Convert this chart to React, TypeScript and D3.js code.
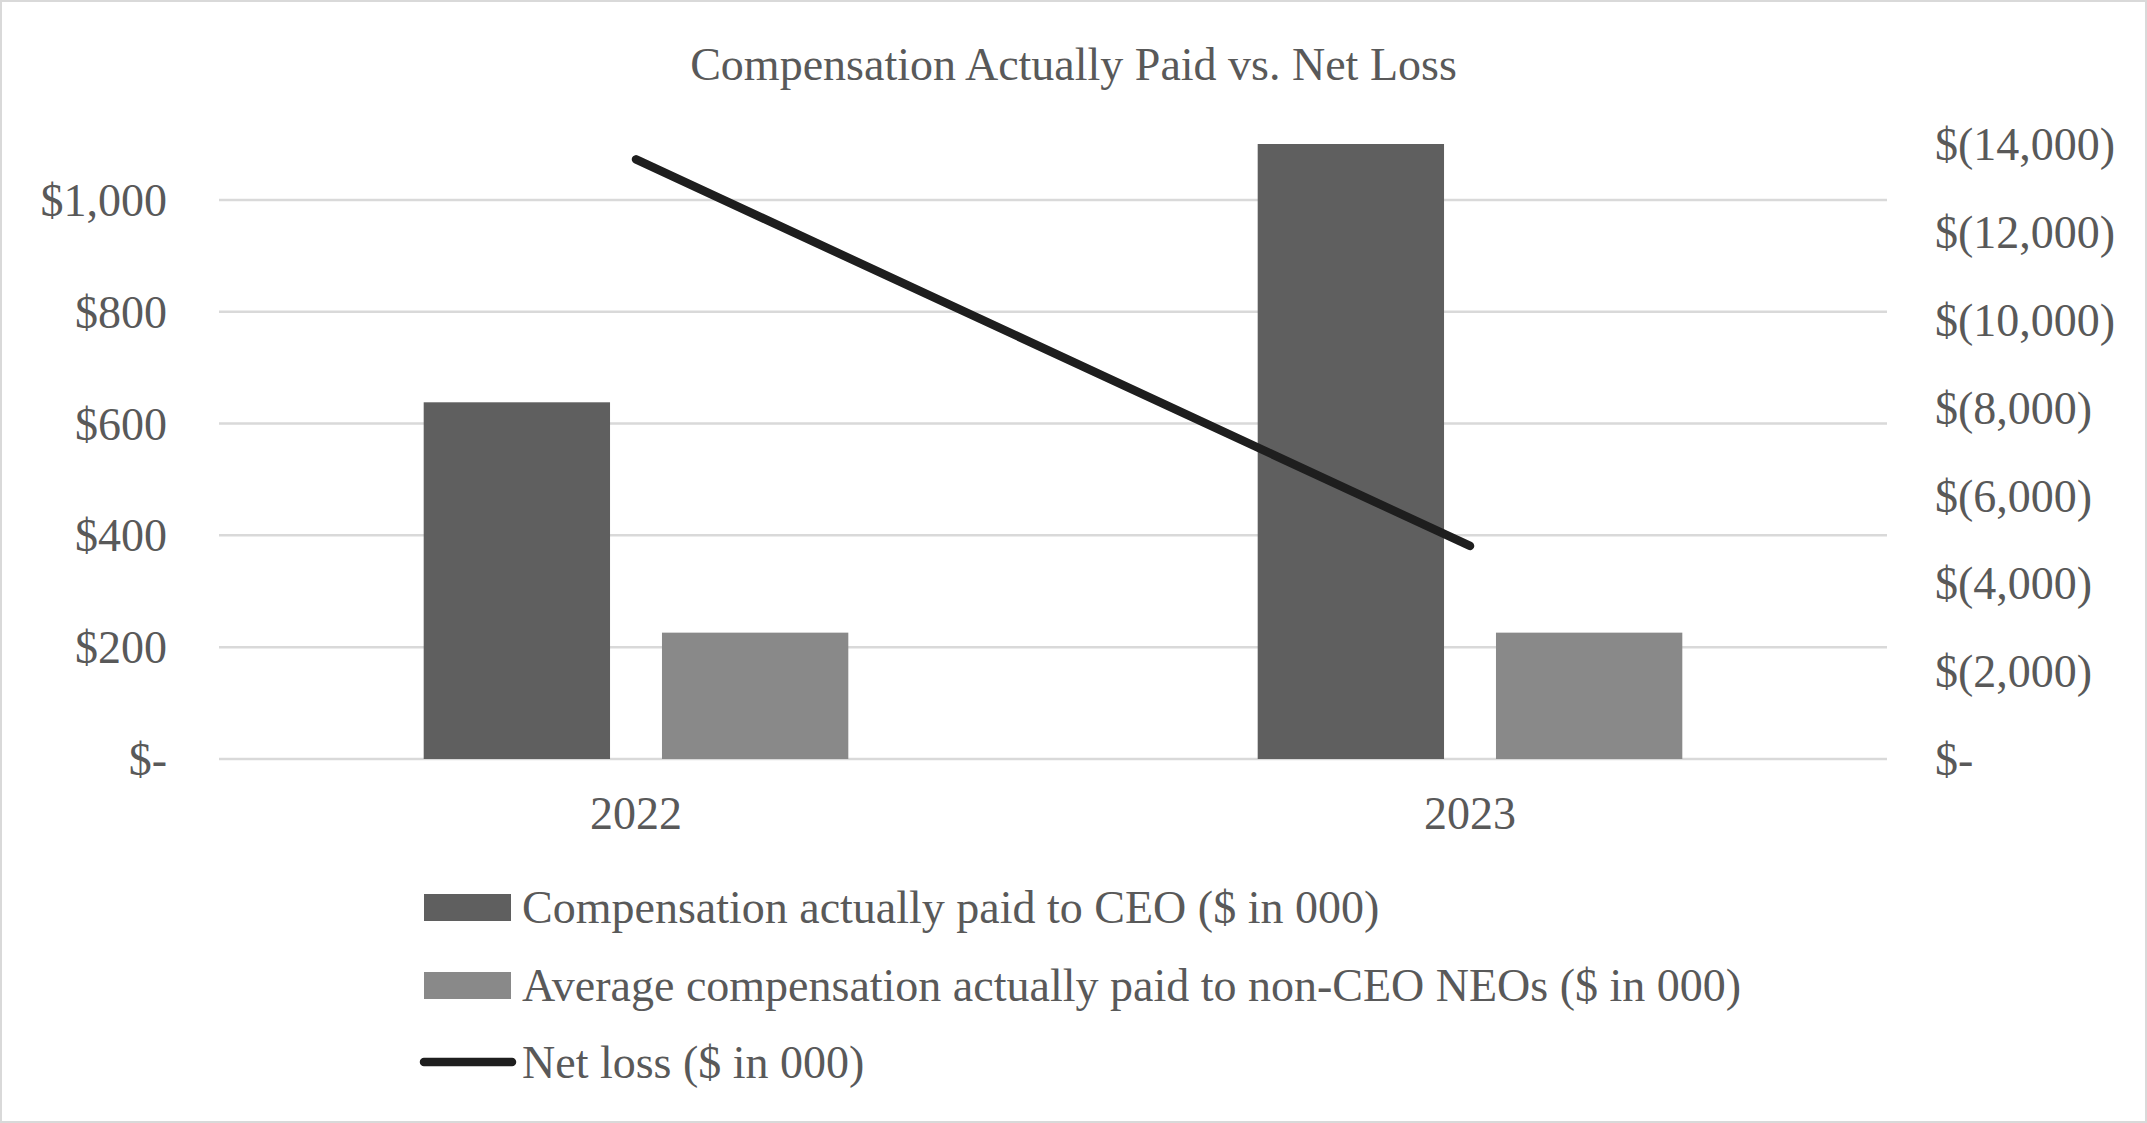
import React, { useEffect, useRef } from "react";
import * as d3 from "d3";

const W = 2147;
const H = 1123;

const YEARS = ["2022", "2023"];
const CEO_CAP = [638, 1100];
const NEO_CAP = [226, 226];
const NET_LOSS = [-13650, -4850];

const LEFT_TICKS = [0, 200, 400, 600, 800, 1000];
const RIGHT_TICKS = [0, -2000, -4000, -6000, -8000, -10000, -12000, -14000];

const SERIES = [
  { key: "ceo", label: "Compensation actually paid to CEO ($ in 000)", color: "#5f5f5f" },
  { key: "neo", label: "Average compensation actually paid to non-CEO NEOs ($ in 000)", color: "#898989" },
];
const LINE_LABEL = "Net loss ($ in 000)";

const FONT = "'Liberation Serif', 'Times New Roman', serif";
const TEXT = "#595959";
const FS = 46;

export default function App() {
  const svgRef = useRef<SVGSVGElement>(null);

  useEffect(() => {
    if (!svgRef.current) return;
    const svg = d3.select(svgRef.current);
    svg.selectAll("*").remove();

    const plot = { left: 219, right: 1887, top: 144, bottom: 759 };

    svg.append("rect")
      .attr("x", 1).attr("y", 1).attr("width", W - 2).attr("height", H - 2)
      .attr("fill", "#fff").attr("stroke", "#d9d9d9").attr("stroke-width", 2);

    const x0 = d3.scaleBand<string>().domain(YEARS).range([plot.left, plot.right]);
    const x1 = d3.scaleBand<string>()
      .domain(SERIES.map(s => s.key))
      .range([0, x0.bandwidth()])
      .paddingInner(0.218)
      .paddingOuter(0.859);
    const yL = d3.scaleLinear().domain([0, 1100]).range([plot.bottom, plot.top]);
    const yR = d3.scaleLinear().domain([0, -14000]).range([plot.bottom, plot.top]);

    // gridlines
    LEFT_TICKS.forEach(t => {
      svg.append("line")
        .attr("x1", plot.left).attr("x2", plot.right)
        .attr("y1", yL(t)).attr("y2", yL(t))
        .attr("stroke", "#d9d9d9").attr("stroke-width", 2.5);
    });

    // left axis labels
    LEFT_TICKS.forEach(t => {
      svg.append("text")
        .attr("x", 167).attr("y", yL(t))
        .attr("dy", "0.35em")
        .attr("text-anchor", "end")
        .attr("fill", TEXT).attr("font-size", FS).attr("font-family", FONT)
        .text(t === 0 ? "$-" : "$" + d3.format(",")(t));
    });

    // right axis labels
    RIGHT_TICKS.forEach(t => {
      svg.append("text")
        .attr("x", 1935).attr("y", yR(t))
        .attr("dy", "0.35em")
        .attr("text-anchor", "start")
        .attr("fill", TEXT).attr("font-size", FS).attr("font-family", FONT)
        .text(t === 0 ? "$-" : "$(" + d3.format(",")(-t) + ")");
    });

    // bars
    const vals: Record<string, number[]> = { ceo: CEO_CAP, neo: NEO_CAP };
    YEARS.forEach((yr, i) => {
      SERIES.forEach(s => {
        const v = vals[s.key][i];
        svg.append("rect")
          .attr("x", (x0(yr) ?? 0) + (x1(s.key) ?? 0))
          .attr("y", yL(v))
          .attr("width", x1.bandwidth())
          .attr("height", yL(0) - yL(v))
          .attr("fill", s.color);
      });
    });

    // net loss line
    const line = d3.line<number>()
      .x((_, i) => (x0(YEARS[i]) ?? 0) + x0.bandwidth() / 2)
      .y(d => yR(d));
    svg.append("path")
      .attr("d", line(NET_LOSS) ?? "")
      .attr("fill", "none")
      .attr("stroke", "#1e1e1e")
      .attr("stroke-width", 8.5)
      .attr("stroke-linecap", "round");

    // x labels
    YEARS.forEach(yr => {
      svg.append("text")
        .attr("x", (x0(yr) ?? 0) + x0.bandwidth() / 2).attr("y", 813)
        .attr("dy", "0.35em")
        .attr("text-anchor", "middle")
        .attr("fill", TEXT).attr("font-size", FS).attr("font-family", FONT)
        .text(yr);
    });

    // title
    svg.append("text")
      .attr("x", W / 2).attr("y", 64)
      .attr("dy", "0.35em")
      .attr("text-anchor", "middle")
      .attr("fill", TEXT).attr("font-size", 46).attr("font-family", FONT)
      .text("Compensation Actually Paid vs. Net Loss");

    // legend
    const legendY = [907, 985, 1062];
    SERIES.forEach((s, i) => {
      svg.append("rect")
        .attr("x", 424).attr("y", legendY[i] - 13)
        .attr("width", 87).attr("height", 27)
        .attr("fill", s.color);
    });
    svg.append("line")
      .attr("x1", 424).attr("x2", 512)
      .attr("y1", legendY[2]).attr("y2", legendY[2])
      .attr("stroke", "#1e1e1e").attr("stroke-width", 8.5)
      .attr("stroke-linecap", "round");
    [...SERIES.map(s => s.label), LINE_LABEL].forEach((lab, i) => {
      svg.append("text")
        .attr("x", 522).attr("y", legendY[i])
        .attr("dy", "0.35em")
        .attr("fill", TEXT).attr("font-size", FS).attr("font-family", FONT)
        .text(lab);
    });
  }, []);

  return (
    <svg
      ref={svgRef}
      width={W}
      height={H}
      style={{ position: "absolute", left: 0, top: 0, display: "block", background: "#fff" }}
    />
  );
}
